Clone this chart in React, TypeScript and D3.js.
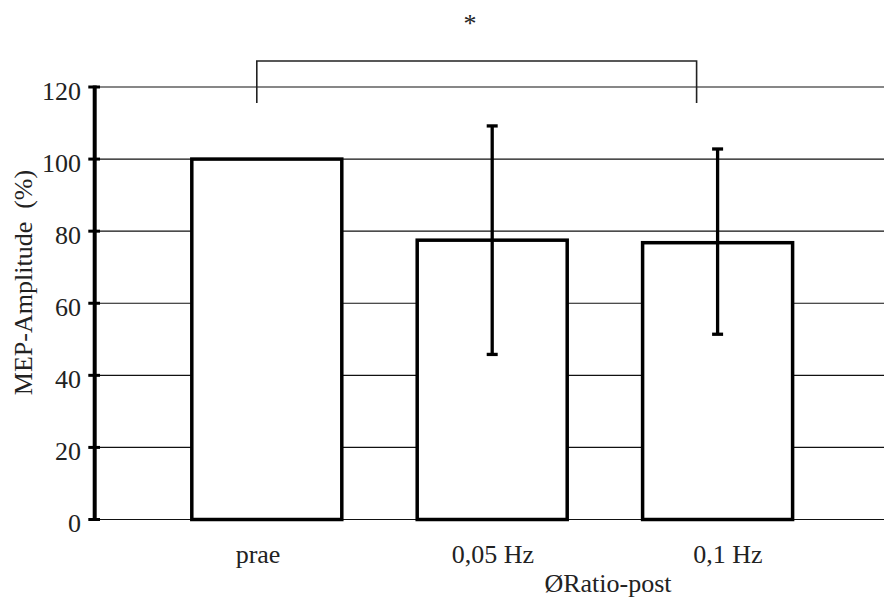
import React from "react";
import * as d3 from "d3";

const categories = ["prae", "0,05 Hz", "0,1 Hz"];
const means = [100, 77.5, 76.8];
const errUpper: (number | null)[] = [null, 109.2, 102.8];
const errLower: (number | null)[] = [null, 45.8, 51.4];
const yTicks = [0, 20, 40, 60, 80, 100, 120];
const yLabel = "MEP-Amplitude  (%)";
const xTitle = "ØRatio-post";
const sigLabel = "*";
const sigPair = [0, 2];

const W = 884;
const H = 599;
const FONT = "Liberation Serif, serif";
const tStyle: React.CSSProperties = { fontFamily: FONT, whiteSpace: "pre" };

export default function App() {
  const y = d3.scaleLinear().domain([0, 120]).range([519.5, 87]);
  const x = d3.scalePoint<string>().domain(categories).range([266.8, 717.6]);
  const xLab = d3.scalePoint<string>().domain(categories).range([258, 728]);
  const barW = 150;
  const axisX = 94.7;
  const capW = 11;

  const bL = x(categories[sigPair[0]])! - 10;
  const bR = x(categories[sigPair[1]])! - 21;
  const bTop = 61;
  const bBot = 103;

  return (
    <svg
      width={W}
      height={H}
      style={{ position: "absolute", left: 0, top: 0, background: "#fff" }}
    >
      <rect x={0} y={0} width={W} height={H} fill="#fff" />
      {yTicks.map((t) => (
        <line
          key={"g" + t}
          x1={axisX}
          x2={W}
          y1={y(t)}
          y2={y(t)}
          stroke="#111"
          strokeWidth={1.2}
        />
      ))}
      {categories.map((c, i) => (
        <rect
          key={"b" + c}
          x={x(c)! - barW / 2}
          y={y(means[i])}
          width={barW}
          height={y(0) - y(means[i])}
          fill="#fff"
          stroke="#000"
          strokeWidth={3.5}
        />
      ))}
      {categories.map((c, i) => {
        const hi = errUpper[i];
        const lo = errLower[i];
        if (hi == null || lo == null) return null;
        const cx = x(c)!;
        return (
          <g key={"e" + c} stroke="#000" strokeWidth={3.3}>
            <line x1={cx} x2={cx} y1={y(hi)} y2={y(lo)} />
            <line x1={cx - capW / 2} x2={cx + capW / 2} y1={y(hi)} y2={y(hi)} />
            <line x1={cx - capW / 2} x2={cx + capW / 2} y1={y(lo)} y2={y(lo)} />
          </g>
        );
      })}
      <line x1={axisX} x2={axisX} y1={y(120) - 1.5} y2={y(0)} stroke="#000" strokeWidth={4} />
      {yTicks.map((t) => (
        <g key={"t" + t}>
          <line x1={88.3} x2={100} y1={y(t)} y2={y(t)} stroke="#000" strokeWidth={3} />
          <text x={81} y={y(t) + 12.5} textAnchor="end" fontSize={26} fill="#222" style={tStyle}>
            {t}
          </text>
        </g>
      ))}
      {categories.map((c) => (
        <text key={"xl" + c} x={xLab(c)} y={562.5} textAnchor="middle" fontSize={26} fill="#222" style={tStyle}>
          {c}
        </text>
      ))}
      <text x={608} y={592} textAnchor="middle" fontSize={26} fill="#222" style={tStyle}>
        {xTitle}
      </text>
      <text
        transform={`translate(23,282.5) rotate(-90)`}
        textAnchor="middle"
        dominantBaseline="central"
        fontSize={26}
        fill="#222"
        style={tStyle}
      >
        {yLabel}
      </text>
      <path
        d={`M${bL},${bBot}V${bTop}H${bR}V${bBot}`}
        fill="none"
        stroke="#222"
        strokeWidth={1.6}
      />
      <text x={470} y={32} textAnchor="middle" fontSize={26} fill="#222" style={tStyle}>
        {sigLabel}
      </text>
    </svg>
  );
}
